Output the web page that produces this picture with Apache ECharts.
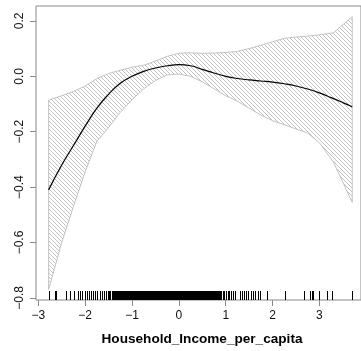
<!DOCTYPE html>
<html>
<head>
<meta charset="utf-8">
<script src="https://cdn.jsdelivr.net/npm/echarts@6/dist/echarts.min.js"></script>
<style>
  html, body { margin: 0; padding: 0; background: #fff; }
  #chart { width: 361px; height: 351px; }
</style>
</head>
<body>
<div id="chart"></div>
<script>
// Smooth term estimate s(Household_Income_per_capita)
const fitX = [-2.78, -2.5, -2.25, -2.0, -1.75, -1.5, -1.25, -1.0, -0.75, -0.5, -0.25, 0.0, 0.25, 0.5, 0.75, 1.0, 1.25, 1.5, 1.75, 2.0, 2.25, 2.5, 2.75, 3.0, 3.25, 3.5, 3.7];
const fitY = [-0.41, -0.32, -0.25, -0.18, -0.115, -0.065, -0.025, 0.0, 0.018, 0.03, 0.038, 0.042, 0.038, 0.025, 0.012, 0.0, -0.008, -0.013, -0.017, -0.021, -0.027, -0.035, -0.046, -0.06, -0.077, -0.095, -0.11];

// Confidence band (upper / lower limits)
const bandX = [-2.78, -2.5, -2.25, -2.0, -1.75, -1.5, -1.25, -1.0, -0.75, -0.5, -0.25, 0.0, 0.25, 0.5, 0.75, 1.0, 1.25, 1.5, 1.75, 2.0, 2.25, 2.5, 2.75, 3.0, 3.3, 3.7];
const bandUpper = [-0.086, -0.07, -0.055, -0.035, -0.008, 0.01, 0.022, 0.033, 0.04, 0.055, 0.072, 0.083, 0.085, 0.083, 0.084, 0.086, 0.09, 0.1, 0.112, 0.125, 0.137, 0.142, 0.145, 0.15, 0.157, 0.215];
const bandLower = [-0.77, -0.60, -0.47, -0.345, -0.235, -0.185, -0.13, -0.085, -0.045, -0.015, 0.005, 0.008, 0.0, -0.02, -0.045, -0.07, -0.09, -0.115, -0.14, -0.16, -0.175, -0.19, -0.205, -0.24, -0.31, -0.455];

// Observed covariate values (rug)
const rugX = [
  -2.78, -2.64, -2.62, -2.41, -2.33, -2.23, -2.16, -2.11, -2.06, -2.00, -1.95, -1.91, -1.88, -1.84,
  -1.79, -1.74, -1.69, -1.63, -1.60, -1.56, -1.52, -1.49,
  -1.46, -1.43, -1.41, -1.39, -1.37, -1.35, -1.33, -1.31, -1.29, -1.27, -1.25, -1.23, -1.21, -1.19,
  -1.17, -1.15, -1.13, -1.11, -1.09, -1.07, -1.05, -1.03, -1.01, -0.99, -0.97, -0.95, -0.93, -0.91,
  -0.89, -0.87, -0.85, -0.83, -0.81, -0.79, -0.77, -0.75, -0.73, -0.71, -0.69, -0.67, -0.65, -0.63,
  -0.61, -0.59, -0.57, -0.55, -0.53, -0.51, -0.49, -0.47, -0.45, -0.43, -0.41, -0.39, -0.37, -0.35,
  -0.33, -0.31, -0.29, -0.27, -0.25, -0.23, -0.21, -0.19, -0.17, -0.15, -0.13, -0.11, -0.09, -0.07,
  -0.05, -0.03, -0.01, 0.01, 0.03, 0.05, 0.07, 0.09, 0.11, 0.13, 0.15, 0.17, 0.19, 0.21, 0.23, 0.25,
  0.27, 0.29, 0.31, 0.33, 0.35, 0.37, 0.39, 0.41, 0.43, 0.45, 0.47, 0.49, 0.51, 0.53, 0.55, 0.57,
  0.59, 0.61, 0.63, 0.65, 0.67, 0.69, 0.71, 0.73, 0.75, 0.77, 0.79, 0.81, 0.83, 0.85, 0.87, 0.89,
  0.94, 0.97, 1.01, 1.04, 1.08, 1.11, 1.15, 1.19, 1.31, 1.35, 1.40, 1.43, 1.48, 1.53, 1.59, 1.63,
  1.68, 1.74, 1.89, 2.26, 2.66, 2.80, 2.84, 2.87, 2.98, 3.16, 3.26, 3.70
];

const xTicks = [-3, -2, -1, 0, 1, 2, 3];
const yTicks = [-0.8, -0.6, -0.4, -0.2, 0.0, 0.2];
const xTitle = 'Household_Income_per_capita';

const X_MIN = -3.049, X_MAX = 3.887;
const Y_MIN = -0.8076, Y_MAX = 0.2538;
const FONT = '"Liberation Sans", Arial, Helvetica, sans-serif';
const FRAME = '#8a8a8a';

// diagonal hatch tile for the band fill
function hatchTile() {
  const s = 4;
  const c = document.createElement('canvas');
  c.width = s; c.height = s;
  const g = c.getContext('2d');
  g.strokeStyle = '#c2c2c2';
  g.lineWidth = 1;
  g.beginPath();
  g.moveTo(-1, -1); g.lineTo(s + 1, s + 1);
  g.moveTo(s - 1, -1); g.lineTo(s + 1, 1);
  g.moveTo(-1, s - 1); g.lineTo(1, s + 1);
  g.stroke();
  return c;
}
const hatch = hatchTile();

const minus = s => s.replace('-', '\u2212');

const chart = echarts.init(document.getElementById('chart'), null, { renderer: 'canvas' });
chart.setOption({
  animation: false,
  backgroundColor: '#fff',
  grid: {
    left: 36, top: 6, right: -1, bottom: 51,
    show: true, borderColor: FRAME, borderWidth: 1, backgroundColor: 'transparent'
  },
  xAxis: {
    type: 'value', min: X_MIN, max: X_MAX,
    axisLine: { show: false, onZero: false },
    splitLine: { show: false },
    axisTick: { show: true, customValues: xTicks, length: 6, lineStyle: { color: FRAME } },
    axisLabel: {
      customValues: xTicks, margin: 10, fontSize: 12, fontFamily: FONT, color: '#111',
      formatter: v => minus(String(Math.round(v)))
    }
  },
  yAxis: {
    type: 'value', min: Y_MIN, max: Y_MAX,
    axisLine: { show: false, onZero: false },
    splitLine: { show: false },
    axisTick: { show: true, customValues: yTicks, length: 6, lineStyle: { color: FRAME } },
    axisLabel: {
      customValues: yTicks, rotate: 90, margin: 10, fontSize: 12, fontFamily: FONT, color: '#111',
      formatter: v => minus(v.toFixed(1))
    }
  },
  graphic: [{
    type: 'text', x: 202, y: 339,
    style: {
      text: xTitle, font: 'bold 13.6px ' + FONT, fill: '#000',
      textAlign: 'center', textVerticalAlign: 'middle'
    }
  }],
  series: [
    {
      type: 'custom', silent: true, z: 1,
      data: [[bandX[0], bandUpper[0]]],
      renderItem: (params, api) => {
        const pts = [];
        for (let i = 0; i < bandX.length; i++) pts.push(api.coord([bandX[i], bandUpper[i]]));
        for (let i = bandX.length - 1; i >= 0; i--) pts.push(api.coord([bandX[i], bandLower[i]]));
        return {
          type: 'polygon',
          shape: { points: pts },
          style: { fill: { image: hatch, repeat: 'repeat' }, stroke: '#c4c4c4', lineWidth: 1 }
        };
      }
    },
    {
      type: 'line', z: 3, symbol: 'none', smooth: true,
      data: fitX.map((x, i) => [x, fitY[i]]),
      lineStyle: { color: '#000', width: 1.2 }
    },
    {
      type: 'custom', silent: true, z: 2,
      data: rugX.map(v => [v, Y_MIN]),
      encode: { x: 0, y: 1 },
      renderItem: (params, api) => {
        const p = api.coord([api.value(0), Y_MIN]);
        const px = Math.round(p[0]) + 0.5;
        return {
          type: 'line',
          shape: { x1: px, y1: p[1], x2: px, y2: p[1] - 9 },
          style: { stroke: '#000', lineWidth: 1 }
        };
      }
    }
  ]
});
</script>
</body>
</html>
